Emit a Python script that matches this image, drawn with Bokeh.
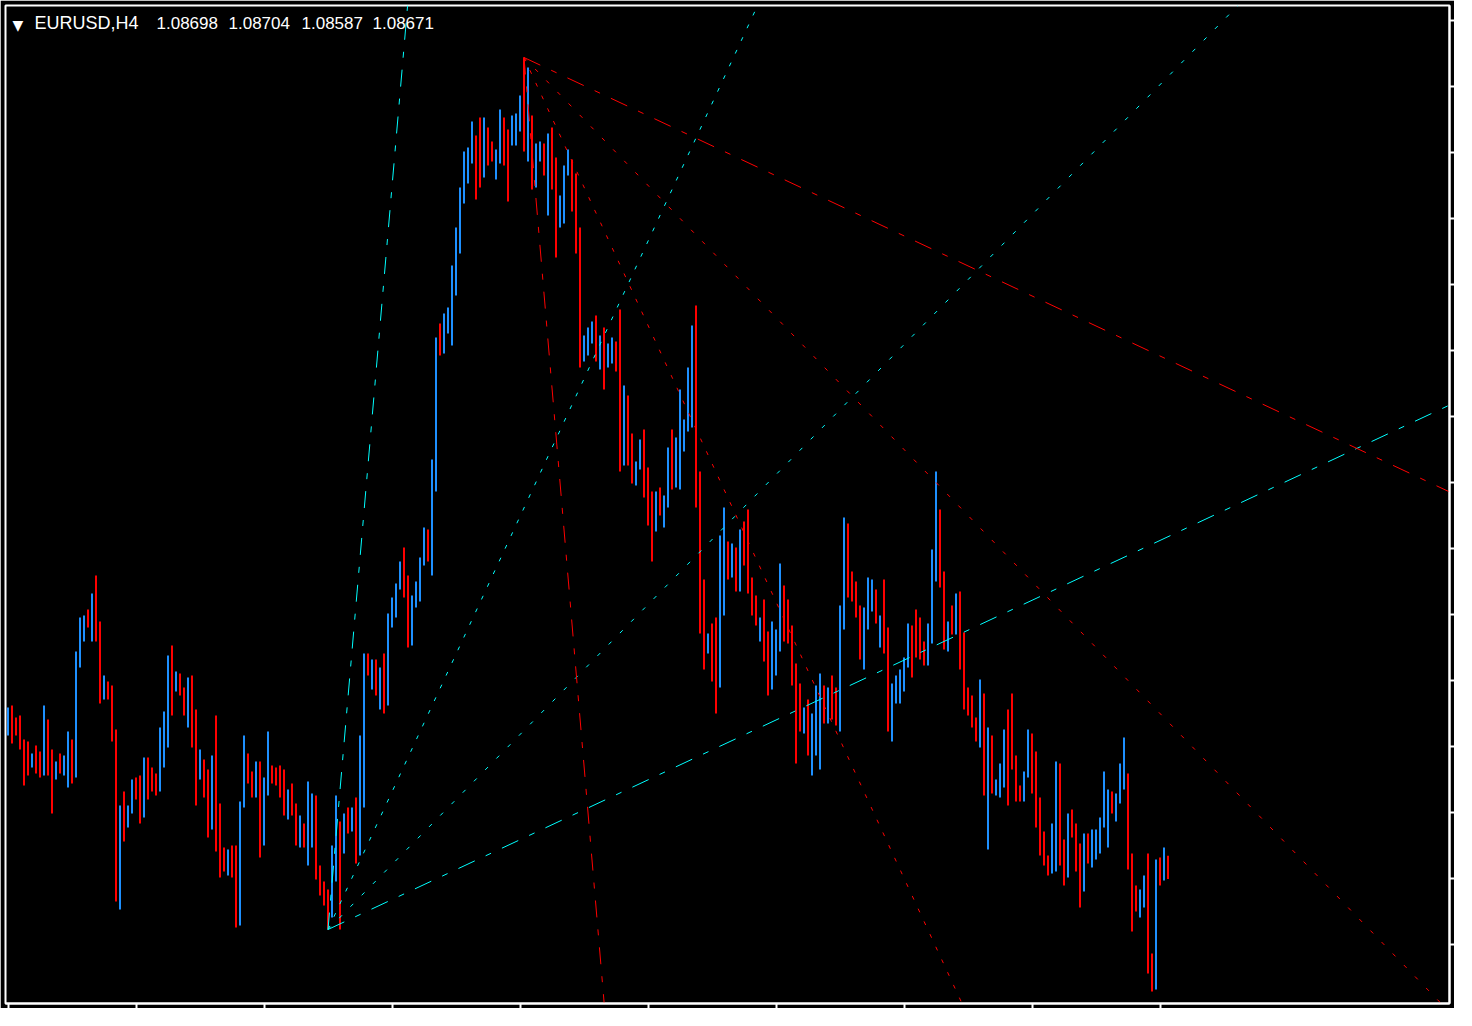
from bokeh.plotting import figure
from bokeh.models import Range1d, FixedTicker, CustomJSTickFormatter, Label
from bokeh.embed import file_html
from bokeh.resources import INLINE

# ---------------- data ----------------
symbol = "EURUSD,H4"
last_ohlc = ["1.08698", "1.08704", "1.08587", "1.08671"]

highs = [
    1.09445, 1.09455, 1.09395, 1.09405, 1.09285, 1.09275, 1.09215, 1.09255, 1.09225, 1.09455,
    1.09385, 1.09235, 1.09175, 1.09215, 1.09205, 1.09325, 1.09285, 1.09725, 1.09895, 1.09905,
    1.09935, 1.10015, 1.10105, 1.09875, 1.09605, 1.09575, 1.09555, 1.09335, 1.08955, 1.09025,
    1.08955, 1.09085, 1.09095, 1.09105, 1.09195, 1.09195, 1.09145, 1.09115, 1.09345, 1.09425,
    1.09705, 1.09755, 1.09625, 1.09615, 1.09545, 1.09595, 1.09605, 1.09435, 1.09235, 1.09185,
    1.09135, 1.09205, 1.09405, 1.08965, 1.08745, 1.08735, 1.08755, 1.08755, 1.08975, 1.09305,
    1.09215, 1.09125, 1.09175, 1.09175, 1.09095, 1.09325, 1.09155, 1.09145, 1.09155, 1.09135,
    1.09035, 1.09065, 1.08965, 1.08905, 1.08865, 1.09075, 1.09015, 1.09005, 1.08655, 1.08575,
    1.08535, 1.08755, 1.09005, 1.08875, 1.08915, 1.08945, 1.08945, 1.08995, 1.09305, 1.09715,
    1.09715, 1.09685, 1.09685, 1.09645, 1.09715, 1.09915, 1.09995, 1.10065, 1.10175, 1.10245,
    1.10105, 1.10005, 1.10075, 1.10195, 1.10345, 1.10335, 1.10685, 1.11295, 1.11365, 1.11415,
    1.11445, 1.11655, 1.11845, 1.12045, 1.12225, 1.12245, 1.12375, 1.12305, 1.12395, 1.12395,
    1.12345, 1.12275, 1.12235, 1.12435, 1.12395, 1.12335, 1.12405, 1.12415, 1.12505, 1.12695,
    1.12645, 1.12405, 1.12265, 1.12275, 1.12265, 1.12315, 1.12345, 1.12195, 1.12005, 1.12155,
    1.12235, 1.12185, 1.12115, 1.11845, 1.11305, 1.11345, 1.11375, 1.11405, 1.11305, 1.11345,
    1.11265, 1.11295, 1.11275, 1.11435, 1.11055, 1.11005, 1.10815, 1.10675, 1.10785, 1.10835,
    1.10645, 1.10525, 1.10525, 1.10545, 1.10505, 1.10745, 1.10835, 1.10795, 1.11035, 1.10885,
    1.11145, 1.11355, 1.11455, 1.10625, 1.10085, 1.09815, 1.09865, 1.09895, 1.10305, 1.10445,
    1.10275, 1.10265, 1.10245, 1.10335, 1.10375, 1.10435, 1.10095, 1.10005, 1.09895, 1.09985,
    1.09825, 1.09875, 1.09835, 1.10165, 1.10055, 1.09985, 1.09855, 1.09665, 1.09565, 1.09445,
    1.09485, 1.09415, 1.09555, 1.09615, 1.09555, 1.09545, 1.09605, 1.09545, 1.09955, 1.10395,
    1.10365, 1.10125, 1.10075, 1.09955, 1.09945, 1.10095, 1.10085, 1.10035, 1.09905, 1.10085,
    1.09845, 1.09565, 1.09605, 1.09635, 1.09695, 1.09865, 1.09855, 1.09935, 1.09895, 1.09775,
    1.09865, 1.10235, 1.10625, 1.10435, 1.10125, 1.09875, 1.09955, 1.10015, 1.10025, 1.09820,
    1.09545, 1.09505, 1.09395, 1.09585, 1.09515, 1.09345, 1.09305, 1.09085, 1.09165, 1.09335,
    1.09435, 1.09515, 1.09205, 1.09055, 1.09125, 1.09335, 1.09315, 1.09225, 1.08995, 1.08825,
    1.08705, 1.08865, 1.09175, 1.09165, 1.08785, 1.08915, 1.08935, 1.08865, 1.08765, 1.08815,
    1.08815, 1.08835, 1.08835, 1.08895, 1.09125, 1.09035, 1.09025, 1.09015, 1.09165, 1.09295,
    1.09115, 1.08715, 1.08555, 1.08535, 1.08605, 1.08715, 1.08215, 1.08685, 1.08695, 1.08745,
    1.08704,
]

lows = [
    1.09305, 1.09265, 1.09305, 1.09235, 1.09055, 1.09105, 1.09145, 1.09115, 1.09095, 1.09105,
    1.09105, 1.08915, 1.09085, 1.09115, 1.09105, 1.09045, 1.09065, 1.09095, 1.09645, 1.09775,
    1.09845, 1.09775, 1.09775, 1.09465, 1.09485, 1.09485, 1.09275, 1.08475, 1.08435, 1.08775,
    1.08845, 1.08915, 1.08985, 1.08865, 1.08895, 1.08985, 1.09025, 1.09005, 1.09025, 1.09145,
    1.09245, 1.09405, 1.09525, 1.09505, 1.09405, 1.09345, 1.09245, 1.08955, 1.09085, 1.08995,
    1.08795, 1.08835, 1.08725, 1.08595, 1.08625, 1.08605, 1.08595, 1.08345, 1.08355, 1.08945,
    1.09065, 1.08995, 1.08995, 1.08695, 1.08755, 1.09005, 1.09065, 1.09055, 1.08995, 1.08905,
    1.08885, 1.08905, 1.08755, 1.08745, 1.08745, 1.08655, 1.08745, 1.08585, 1.08505, 1.08455,
    1.08335, 1.08395, 1.08575, 1.08335, 1.08715, 1.08815, 1.08825, 1.08665, 1.08705, 1.08945,
    1.09605, 1.09535, 1.09505, 1.09435, 1.09415, 1.09455, 1.09845, 1.09895, 1.10035, 1.09995,
    1.09745, 1.09755, 1.09945, 1.09975, 1.10155, 1.10175, 1.10105, 1.10525, 1.11205, 1.11215,
    1.11315, 1.11255, 1.11505, 1.11715, 1.11965, 1.12065, 1.12165, 1.11985, 1.12045, 1.12095,
    1.12155, 1.12175, 1.12085, 1.12165, 1.12155, 1.11975, 1.12255, 1.12255, 1.12325, 1.12225,
    1.12175, 1.12035, 1.12045, 1.12175, 1.12105, 1.11905, 1.12035, 1.11695, 1.11845, 1.11865,
    1.12105, 1.11925, 1.11715, 1.11145, 1.11175, 1.11205, 1.11265, 1.11175, 1.11135, 1.11035,
    1.11145, 1.11165, 1.11125, 1.10625, 1.10655, 1.10655, 1.10565, 1.10555, 1.10635, 1.10495,
    1.10355, 1.10175, 1.10325, 1.10405, 1.10345, 1.10445, 1.10535, 1.10545, 1.10535, 1.10725,
    1.10825, 1.10845, 1.10445, 1.09815, 1.09635, 1.09715, 1.09575, 1.09415, 1.09545, 1.09905,
    1.10085, 1.10095, 1.10025, 1.10025, 1.10155, 1.10015, 1.09905, 1.09855, 1.09775, 1.09675,
    1.09505, 1.09535, 1.09605, 1.09725, 1.09775, 1.09765, 1.09555, 1.09165, 1.09325, 1.09315,
    1.09205, 1.09105, 1.09205, 1.09135, 1.09365, 1.09365, 1.09385, 1.09355, 1.09325, 1.09835,
    1.09995, 1.09975, 1.09895, 1.09685, 1.09635, 1.09835, 1.09925, 1.09865, 1.09745, 1.09715,
    1.09325, 1.09275, 1.09465, 1.09465, 1.09525, 1.09645, 1.09595, 1.09695, 1.09685, 1.09655,
    1.09655, 1.09765, 1.10075, 1.10045, 1.09735, 1.09725, 1.09810, 1.09810, 1.09635, 1.09435,
    1.09405, 1.09345, 1.09275, 1.09245, 1.09005, 1.08735, 1.09015, 1.09005, 1.08995, 1.09045,
    1.08955, 1.09135, 1.08975, 1.08975, 1.08975, 1.09095, 1.09015, 1.08845, 1.08705, 1.08655,
    1.08605, 1.08615, 1.08625, 1.08655, 1.08555, 1.08595, 1.08795, 1.08625, 1.08445, 1.08525,
    1.08665, 1.08645, 1.08685, 1.08715, 1.08845, 1.08745, 1.08915, 1.08875, 1.08965, 1.09035,
    1.08635, 1.08325, 1.08425, 1.08395, 1.08445, 1.08115, 1.08025, 1.08035, 1.08555, 1.08580,
    1.08587,
]

# B = bullish bar (close above open), R = bearish bar
direction = list(
    "BRRRRRBRRB" "RRBRBBRBBB" "RBRRBRRRBR" "BBRRBRRRBB" "BRBRRBRRBR"
    "RBRRRBRRBB" "RRBRBBRRRR" "BRRBRBBRRR" "RBBRBRBRBB" "RBRBRBBBBR"
    "RBBBBRBBRB" "BBBBBBBRRB" "RRBBRRBBBR" "BRBBRBRRBB" "BRRRBBBRBR"
    "BBRRBRRBBR" "RRBRBBRBBB" "BBRRRBRRBB" "RBRBRRRRBR" "RBBBRRRRRB"
    "RBBBRBRRBB" "RRRRBBBRBR" "RBBBBBRRRR" "BBBRRBRBRR" "RRRBRBRBBB"
    "RRRRBBRRRR" "RBBRRBRRRB" "RBBBBBRBBB" "RRRBBRRBRB" "R"
)

x_ticks = [0, 32, 64, 96, 128, 160, 192, 224, 256, 288]
y_ticks = [1.1288, 1.1255, 1.1222, 1.1189, 1.1156, 1.1123, 1.1090, 1.1057,
           1.1024, 1.0991, 1.0958, 1.0925, 1.0892, 1.0859, 1.0826, 1.0793]

# fan drawn up from the low (bar 80) and down from the high (bar 129)
cyan_origin_x, cyan_origin_y = 80, 1.08335
cyan_end_x = [99.9, 187.4, 307.5, 363.9]
cyan_end_y = [1.12955, 1.12955, 1.12955, 1.10990]
red_origin_x, red_origin_y = 129, 1.12695
red_end_x = [149.3, 239.9, 361.2, 363.9]
red_end_y = [1.07905, 1.07905, 1.07905, 1.10490]
fan_dash = ["17 12 6 12", "4 10", "4 12", "18 12 6 12"]

# ---------------- figure ----------------
border = 5
fw, fh = 1444, 998
axis_size = 7
H = border + fh + axis_size

p = figure(
    frame_width=fw, frame_height=fh,
    x_range=Range1d(-0.625, -0.625 + fw / 4.0),
    y_range=Range1d(1.12955 - fh * 0.00005, 1.12955),
    output_backend="svg", toolbar_location=None, y_axis_location="right",
    background_fill_color="black", border_fill_color="black",
    min_border_left=border, min_border_top=border, min_border_right=0, min_border_bottom=0,
)
p.grid.visible = False
p.outline_line_color = "white"
p.outline_line_width = 2

for ax in (p.xaxis[0], p.yaxis[0]):
    ax.axis_line_color = "white"
    ax.axis_line_width = 2
    ax.major_tick_line_color = "white"
    ax.major_tick_line_width = 2
    ax.major_tick_in = 0
    ax.major_tick_out = 5
    ax.minor_tick_line_color = None
    ax.formatter = CustomJSTickFormatter(code="return ''")
    ax.major_label_standoff = 0
    ax.major_label_text_font_size = "1px"
p.xaxis.ticker = FixedTicker(ticks=x_ticks)
p.yaxis.ticker = FixedTicker(ticks=y_ticks)

idx = list(range(len(highs)))
colors = ["#1E90FF" if d == "B" else "#FF0000" for d in direction]
p.vbar(x=idx, width=0.5, top=highs, bottom=lows, fill_color=colors, line_color=None)

for xe, ye, dash in zip(cyan_end_x, cyan_end_y, fan_dash):
    p.line([cyan_origin_x, xe], [cyan_origin_y, ye], line_color="#00FFFF",
           line_width=1, line_dash=dash)
for xe, ye, dash in zip(red_end_x, red_end_y, fan_dash):
    p.line([red_origin_x, xe], [red_origin_y, ye], line_color="#FF0000",
           line_width=1, line_dash=dash)

# header text (x from the frame's left edge, y from the canvas bottom)
base = H - 29
p.add_layout(Label(x=7, y=H - 31, x_units="screen", y_units="screen", text="\u25BC",
                   text_color="white", text_font="DejaVu Sans", text_font_size="14px",
                   text_baseline="alphabetic"))
p.add_layout(Label(x=29, y=base, x_units="screen", y_units="screen", text=symbol,
                   text_color="white", text_font="Liberation Sans", text_font_size="18px",
                   text_baseline="alphabetic"))
for xpos, txt in zip([151, 223, 296, 367], last_ohlc):
    p.add_layout(Label(x=xpos, y=base, x_units="screen", y_units="screen", text=txt,
                       text_color="white", text_font="Liberation Sans", text_font_size="17px",
                       text_baseline="alphabetic"))

open("out.html", "w").write(file_html(p, INLINE))
